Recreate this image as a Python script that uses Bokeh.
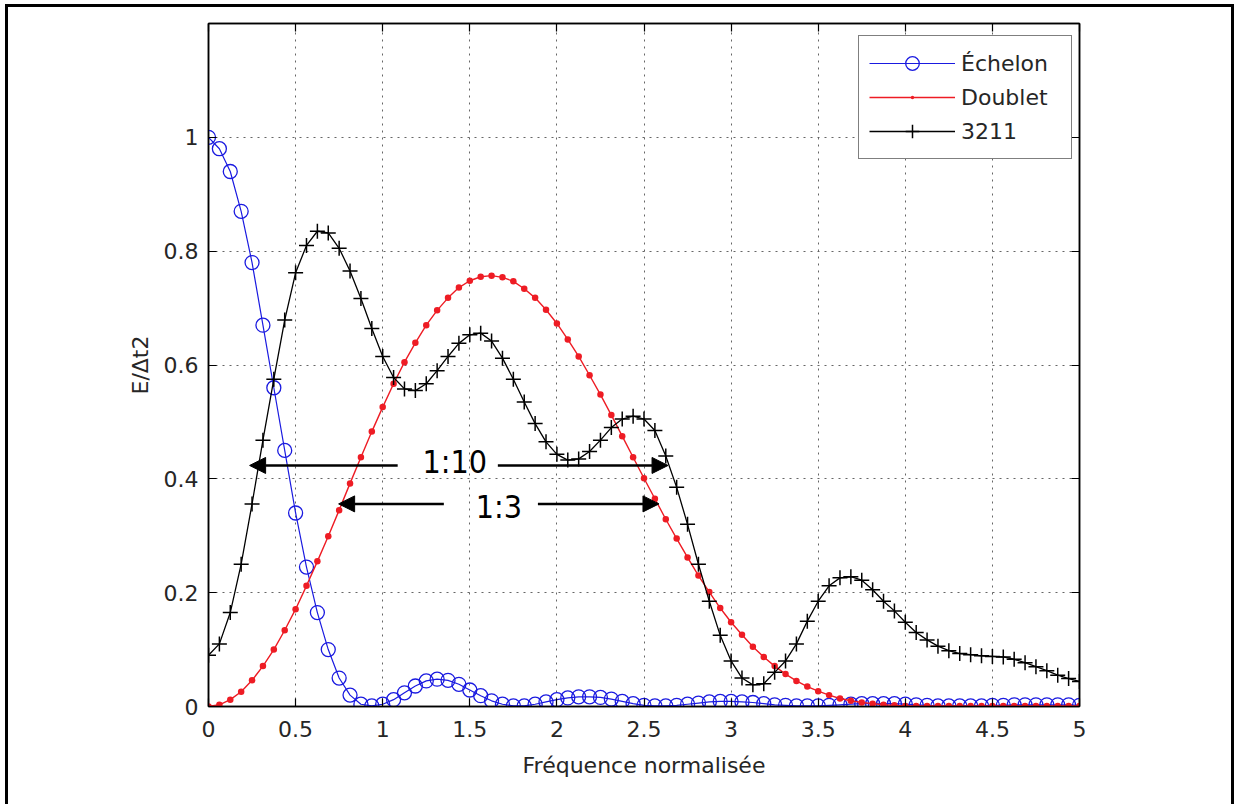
from bokeh.plotting import figure
from bokeh.models import (Range1d, FixedTicker, LinearAxis, Legend, LegendItem,
                          Arrow, NormalHead, Label)
from bokeh.embed import file_html
from bokeh.resources import INLINE

# Normalised frequency grid (step 1/16)
freq = [k * 0.0625 for k in range(81)]

# Energy spectra E/dt^2 of the three test inputs
echelon = [
    1.00, 0.98, 0.94, 0.87, 0.78, 0.67, 0.56, 0.45, 0.34, 0.245,
    0.165, 0.10, 0.05, 0.02, 0.004, 0.001, 0.004, 0.012, 0.024, 0.036,
    0.045, 0.048, 0.046, 0.039, 0.029, 0.019, 0.010, 0.004, 0.001, 0.001,
    0.004, 0.008, 0.012, 0.015, 0.017, 0.017, 0.016, 0.013, 0.009, 0.005,
    0.002, 0.001, 0.001, 0.002, 0.004, 0.006, 0.008, 0.009, 0.009, 0.008,
    0.007, 0.005, 0.003, 0.002, 0.001, 0.001, 0.001, 0.002, 0.003, 0.004,
    0.005, 0.005, 0.005, 0.005, 0.004, 0.003, 0.002, 0.001, 0.001, 0.001,
    0.001, 0.001, 0.002, 0.002, 0.003, 0.003, 0.003, 0.003, 0.003, 0.003,
    0.002,
]
doublet = [
    0.0, 0.003, 0.012, 0.026, 0.046, 0.071, 0.100, 0.134, 0.171, 0.212,
    0.255, 0.299, 0.345, 0.392, 0.438, 0.483, 0.526, 0.567, 0.605, 0.639,
    0.670, 0.696, 0.718, 0.736, 0.748, 0.755, 0.757, 0.754, 0.747, 0.734,
    0.718, 0.697, 0.673, 0.645, 0.615, 0.582, 0.548, 0.512, 0.475, 0.438,
    0.401, 0.365, 0.329, 0.295, 0.262, 0.230, 0.201, 0.173, 0.148, 0.126,
    0.105, 0.087, 0.071, 0.057, 0.045, 0.035, 0.027, 0.020, 0.014, 0.010,
    0.007, 0.005, 0.003, 0.002, 0.001, 0.001, 0.001, 0.001, 0.001, 0.001,
    0.001, 0.001, 0.001, 0.001, 0.001, 0.001, 0.001, 0.001, 0.001, 0.001,
    0.001,
]
signal_3211 = [
    0.09, 0.11, 0.165, 0.25, 0.356, 0.468, 0.575, 0.679, 0.762, 0.81,
    0.835, 0.832, 0.805, 0.765, 0.717, 0.664, 0.615, 0.578, 0.558, 0.555,
    0.567, 0.59, 0.615, 0.638, 0.653, 0.656, 0.642, 0.612, 0.575, 0.535,
    0.497, 0.465, 0.443, 0.433, 0.435, 0.448, 0.468, 0.49, 0.505, 0.51,
    0.505, 0.485, 0.44, 0.385, 0.32, 0.25, 0.185, 0.125, 0.08, 0.05,
    0.038, 0.04, 0.06, 0.08, 0.11, 0.15, 0.185, 0.212, 0.226, 0.228,
    0.222, 0.205, 0.185, 0.168, 0.148, 0.13, 0.117, 0.106, 0.098, 0.093,
    0.091, 0.089, 0.088, 0.087, 0.083, 0.077, 0.07, 0.063, 0.055, 0.049,
    0.044,
]

x_ticks = [0, 0.5, 1, 1.5, 2, 2.5, 3, 3.5, 4, 4.5, 5]
x_tick_labels = ["0", "0.5", "1", "1.5", "2", "2.5", "3", "3.5", "4", "4.5", "5"]
y_ticks = [0, 0.2, 0.4, 0.6, 0.8, 1.0]
y_tick_labels = ["0", "0.2", "0.4", "0.6", "0.8", "1"]

# Bandwidth markers: (label, arrow level, left tip, gap start, gap end, right tip, text x, text y)
bands = [
    ("1:10", 0.4235, 0.236, 1.086, 1.661, 2.638, 1.414, 0.430),
    ("1:3", 0.356, 0.747, 1.351, 1.891, 2.586, 1.667, 0.350),
]

FONT = "DejaVu Sans"
TXT = "#262626"

p = figure(width=1238, height=804, x_range=Range1d(0, 5), y_range=Range1d(0, 1.2),
           output_backend="svg", toolbar_location=None,
           min_border_left=208, min_border_right=159, min_border_top=23, min_border_bottom=98,
           background_fill_color="white", border_fill_color="white", border_fill_alpha=0)

# page frame (left, right and top rules) painted behind the transparent border area
rule = "linear-gradient(#000, #000)"
p.styles = {
    "background": (f"{rule} 5px 4px / 3px 800px no-repeat, "
                   f"{rule} 1231px 4px / 3px 800px no-repeat, "
                   f"{rule} 5px 4px / 1229px 3px no-repeat, white"),
}

p.outline_line_color = "black"
p.outline_line_width = 1.5

bottom_ax = p.below[0]
left_ax = p.left[0]
bottom_ax.ticker = FixedTicker(ticks=x_ticks)
bottom_ax.major_label_overrides = {t: s for t, s in zip(x_ticks, x_tick_labels)}
left_ax.ticker = FixedTicker(ticks=y_ticks)
left_ax.major_label_overrides = {t: s for t, s in zip(y_ticks, y_tick_labels)}

# mirrored axes on top and right, ticks only
top_ax = LinearAxis(ticker=FixedTicker(ticks=x_ticks), major_label_text_font_size="0px",
                    major_label_standoff=0)
right_ax = LinearAxis(ticker=FixedTicker(ticks=y_ticks), major_label_text_font_size="0px",
                      major_label_standoff=0)
p.add_layout(top_ax, "above")
p.add_layout(right_ax, "right")

for ax in [bottom_ax, left_ax, top_ax, right_ax]:
    ax.major_tick_in = 8
    ax.major_tick_out = 0
    ax.minor_tick_in = 0
    ax.minor_tick_out = 0
    ax.axis_line_color = "black"
    ax.axis_line_width = 1.5
    ax.major_tick_line_color = "black"
    ax.major_tick_line_width = 1.2

for ax in [bottom_ax, left_ax]:
    ax.major_label_text_font = FONT
    ax.major_label_text_font_size = "22px"
    ax.major_label_text_color = TXT
    ax.axis_label_text_font = FONT
    ax.axis_label_text_font_size = "22px"
    ax.axis_label_text_font_style = "normal"
    ax.axis_label_text_color = TXT

bottom_ax.major_label_standoff = 14
bottom_ax.axis_label = "Fréquence normalisée"
bottom_ax.axis_label_standoff = 13
left_ax.major_label_standoff = 10
left_ax.axis_label = "E/Δt2"
left_ax.axis_label_standoff = 8

# dotted grid
p.xgrid.ticker = FixedTicker(ticks=x_ticks)
p.ygrid.ticker = FixedTicker(ticks=y_ticks)
for g in [p.xgrid, p.ygrid]:
    g.grid_line_color = "#555555"
    g.grid_line_dash = "2 5"
    g.grid_line_width = 1
    g.grid_line_alpha = 0.9

# series
l1 = p.line(freq, echelon, line_color="#1a1ae0", line_width=1.2)
s1 = p.scatter(freq, echelon, marker="circle", size=14, line_color="#1a1ae0",
               fill_color=None, line_width=1.3)
l2 = p.line(freq, doublet, line_color="#ee1c24", line_width=1.4)
s2 = p.scatter(freq, doublet, marker="dot", size=26, line_color="#ee1c24",
               fill_color="#ee1c24")
l3 = p.line(freq, signal_3211, line_color="black", line_width=1.3)
s3 = p.scatter(freq, signal_3211, marker="cross", size=15, line_color="black",
               line_width=1.5)

# legend-only swatch: a filled red disc whose wide white rim shrinks it to a dot
dot_swatch = p.scatter(x=[], y=[], marker="circle", size=10, fill_color="#ee1c24",
                       line_color="white", line_width=8)

legend = Legend(items=[
    LegendItem(label="Échelon", renderers=[l1, s1]),
    LegendItem(label="Doublet", renderers=[dot_swatch, l2, s2]),
    LegendItem(label="3211", renderers=[l3, s3]),
], location=(650, 547))
legend.border_line_color = "black"
legend.border_line_width = 1.5
legend.background_fill_color = "white"
legend.background_fill_alpha = 1
legend.label_text_font = FONT
legend.label_text_font_size = "22px"
legend.label_text_color = TXT
legend.glyph_width = 86
legend.glyph_height = 34
legend.label_height = 34
legend.padding = 10
legend.spacing = 0
legend.margin = 0
legend.label_standoff = 6
legend.label_width = 100
p.add_layout(legend)

# bandwidth arrows with their ratio labels
for text, yl, tip_l, gap_l, gap_r, tip_r, tx, ty in bands:
    for xs, xe in [(gap_l, tip_l), (gap_r, tip_r)]:
        p.add_layout(Arrow(end=NormalHead(size=16, fill_color="black", line_color="black"),
                           x_start=xs, y_start=yl, x_end=xe, y_end=yl,
                           line_color="black", line_width=2.5))
    p.add_layout(Label(x=tx, y=ty, text=text, text_align="center", text_baseline="middle",
                       text_font="DejaVu Sans Condensed",
                       text_font_size="32px", text_color="black"))

open("out.html", "w").write(file_html(p, INLINE))
